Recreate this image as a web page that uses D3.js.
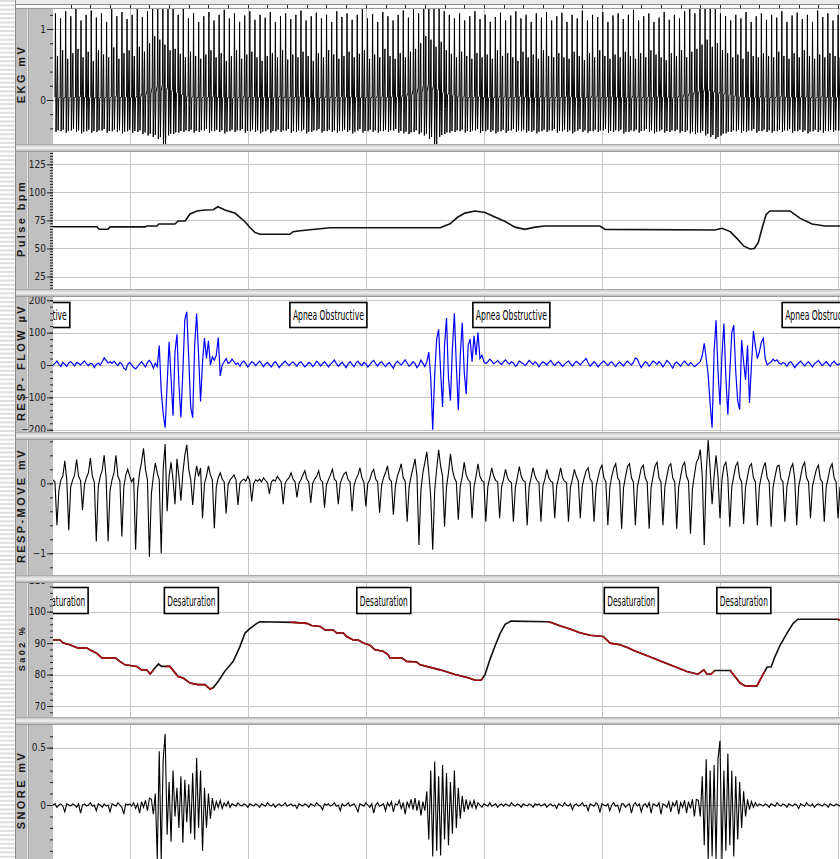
<!DOCTYPE html>
<html>
<head>
<meta charset="utf-8">
<script src="https://cdn.jsdelivr.net/npm/d3@7"></script>
<style>
  body { margin: 0; background: #fff; }
  svg { display: block; }
</style>
</head>
<body>
<script>
// time window in seconds
const tStart = 10.5, tEnd = 210.5;
const gridTimes = [30, 60, 90, 120, 150, 180, 210];
const sampleStep = 0.5; // flow, move and snore: one sample every 0.5 s from tStart

// EKG, one beat every 1.3 s from 11 s: tall peak, second peak, trough, baseline jitter
const ekgStart = 11.0, ekgStep = 1.3;
const ekgR = [
  1.22,1.15,1.25,1.18,1.3,1.12,1.2,1.26,1.16,1.22,1.1,1.28,1.18,1.24,
  1.14,1.2,1.3,1.17,1.25,1.32,1.35,1.3,1.28,1.35,1.2,1.3,1.15,1.22,
  1.1,1.18,1.24,1.12,1.2,1.27,1.15,1.22,1.1,1.19,1.25,1.13,1.2,1.16,
  1.24,1.1,1.18,1.22,1.14,1.2,1.26,1.12,1.18,1.23,1.15,1.2,1.1,1.25,
  1.17,1.22,1.13,1.2,1.28,1.15,1.21,1.1,1.24,1.18,1.12,1.2,1.26,1.16,
  1.3,1.22,1.32,1.35,1.3,1.33,1.25,1.2,1.15,1.22,1.12,1.18,1.25,1.14,
  1.2,1.1,1.17,1.23,1.12,1.19,1.25,1.15,1.2,1.1,1.22,1.16,1.24,1.12,
  1.18,1.23,1.1,1.2,1.15,1.26,1.12,1.2,1.17,1.24,1.1,1.19,1.22,1.14,
  1.2,1.27,1.12,1.18,1.22,1.1,1.16,1.24,1.13,1.2,1.15,1.25,1.28,1.22,
  1.3,1.33,1.28,1.3,1.22,1.18,1.12,1.2,1.15,1.24,1.1,1.18,1.22,1.13,
  1.2,1.16,1.25,1.1,1.19,1.23,1.14,1.2,1.1,1.26,1.17,1.22,1.12,1.2];
const ekgR2 = [
  .62,.7,.58,.66,.72,.6,.68,.55,.7,.64,.6,.74,.58,.66,
  .7,.62,.75,.68,.8,.9,.85,.78,.7,.72,.65,.6,.68,.62,
  .58,.64,.7,.6,.66,.55,.62,.7,.58,.64,.68,.6,.55,.62,
  .66,.6,.7,.57,.64,.6,.68,.62,.55,.66,.6,.7,.64,.58,
  .62,.68,.6,.65,.7,.58,.64,.6,.72,.62,.58,.66,.6,.68,
  .72,.8,.9,.85,.75,.82,.7,.65,.6,.68,.62,.58,.66,.6,
  .64,.58,.7,.62,.66,.6,.55,.68,.6,.64,.58,.7,.62,.6,
  .66,.6,.58,.68,.62,.56,.66,.6,.7,.62,.58,.64,.6,.68,
  .62,.58,.66,.6,.7,.64,.6,.56,.66,.62,.7,.6,.68,.72,
  .78,.85,.75,.8,.7,.66,.6,.64,.58,.68,.62,.6,.66,.62,
  .6,.68,.62,.58,.66,.6,.7,.62,.58,.64,.6,.66,.62,.6];
const ekgS = [
  -.45,-.44,-.46,-.43,-.45,-.47,-.44,-.46,-.45,-.43,-.46,-.44,-.45,-.47,
  -.44,-.46,-.45,-.48,-.5,-.52,-.55,-.68,-.5,-.48,-.46,-.45,-.44,-.46,
  -.45,-.43,-.46,-.44,-.45,-.47,-.44,-.45,-.43,-.46,-.44,-.45,-.47,-.44,
  -.46,-.44,-.45,-.43,-.46,-.45,-.44,-.47,-.45,-.43,-.46,-.44,-.45,-.46,
  -.44,-.45,-.47,-.43,-.46,-.44,-.45,-.46,-.44,-.45,-.43,-.46,-.47,-.48,
  -.45,-.48,-.5,-.55,-.68,-.52,-.48,-.46,-.45,-.44,-.46,-.45,-.43,-.46,
  -.44,-.45,-.47,-.44,-.46,-.43,-.45,-.44,-.46,-.45,-.47,-.44,-.45,-.43,
  -.46,-.44,-.45,-.47,-.43,-.45,-.46,-.44,-.45,-.43,-.46,-.45,-.44,-.47,
  -.45,-.44,-.46,-.43,-.45,-.47,-.44,-.46,-.45,-.44,-.46,-.45,-.47,-.48,
  -.46,-.5,-.52,-.55,-.5,-.47,-.45,-.44,-.46,-.45,-.43,-.46,-.44,-.45,
  -.46,-.44,-.45,-.43,-.46,-.44,-.45,-.47,-.44,-.45,-.46,-.44,-.45,-.43];
const ekgN = [
  .04,.05,.03,.05,.04,.06,.04,.05,.03,.05,.04,.05,.06,.04,
  .05,.04,.06,.1,.14,.18,.2,.22,.18,.15,.12,.08,.06,.05,
  .04,.05,.04,.06,.04,.05,.03,.05,.04,.06,.04,.05,.04,.05,
  .04,.05,.06,.04,.05,.04,.06,.05,.04,.05,.04,.06,.04,.05,
  .05,.04,.06,.05,.04,.05,.04,.06,.05,.04,.06,.05,.08,.1,
  .14,.18,.2,.22,.2,.16,.12,.1,.08,.06,.05,.04,.05,.06,
  .04,.05,.04,.06,.05,.04,.05,.06,.04,.05,.04,.06,.05,.04,
  .05,.04,.06,.05,.04,.05,.04,.06,.05,.04,.05,.06,.04,.05,
  .04,.06,.05,.04,.05,.04,.06,.05,.04,.05,.06,.08,.1,.12,
  .15,.18,.16,.14,.12,.1,.08,.06,.05,.04,.05,.04,.06,.05,
  .04,.05,.06,.04,.05,.04,.06,.05,.04,.05,.06,.04,.05,.04];

// Pulse (bpm)
const pulseT = [10.5,21.7,22.2,24.5,25.0,33.9,34.4,36.9,37.4,41.5,42.3,44.1,45.3,47.1,49.1,51.2,52.4,54.2,56.8,59.3,60.6,61.8,63.1,70.7,71.5,73.3,78.4,80.9,108.9,111.4,113.4,115.2,117.7,120.3,122.8,125.4,127.9,130.4,133.0,135.5,149.5,150.8,178.7,180.5,182.6,184.3,186.1,187.6,188.7,189.7,190.7,191.7,192.7,197.8,200.3,203.4,206.7,210.5];
const pulseV = [69.4,69.4,67.1,67.1,69.2,69.2,70,70,71.8,71.8,74.5,74.5,80.7,83.4,84.3,84.5,87.2,84.3,81.3,73.8,68.5,64.3,62.6,62.6,64.9,65.8,67.5,68.5,68.5,72,78,81.5,83.4,82,78,74,69,67,69,70,70,67,66.5,68,65,59,52,49.5,50,55,68,80,83.4,83.4,77,71.8,70,70];

// RESP-FLOW (µV)
const flow = [
  0,5,12,3,-5,8,2,-4,6,10,
  4,-3,8,5,0,7,12,4,-2,5,
  3,-8,2,6,0,10,22,14,6,10,
  5,12,4,-2,8,3,-10,-15,2,8,
  0,-8,-12,-5,3,10,2,-6,8,14,
  6,-10,
  5,-5,60,-80,-150,-194,-60,72,-40,-157,40,95,-60,-162,-20,140,164,20,-130,-163,
  60,159,30,-113,10,83,20,75,0,25,15,30,85,-34,0,10,20,5,
  8,18,10,2,6,-4,8,12,4,-6,
  2,10,6,-2,5,12,4,-5,3,8,
  0,-6,4,10,2,-8,0,6,12,4,
  -2,5,9,3,-4,6,10,2,-6,0,
  8,4,-5,2,12,6,-3,4,10,3,
  -6,2,8,15,5,-4,3,9,0,-8,
  4,10,2,-5,6,12,3,-2,8,4,
  -6,0,9,14,4,-3,6,10,2,-5,
  3,8,-2,-10,4,12,5,0,8,16,
  6,-4,2,10,4,-8,0,15,5,-5,
  10,40,-40,-200,-30,80,110,-20,-130,60,145,-40,-110,50,160,0,-140,30,130,-20,
  -90,60,80,10,90,30,100,20,30,10,5,
  10,18,12,4,8,14,6,2,10,
  16,8,3,10,6,-4,2,12,8,4,
  -2,6,14,8,2,10,5,-6,4,10,
  6,0,8,14,4,-2,6,10,3,-4,
  2,8,12,4,-3,5,11,6,0,7,
  14,20,6,-4,3,10,4,-6,2,8,
  12,5,-2,6,10,2,-5,4,9,3,
  -3,6,12,5,0,8,22,18,4,-8,
  2,10,6,-4,4,12,8,2,10,4,
  -6,3,14,8,0,-10,4,9,3,-4,
  6,12,4,-2,8,2,-5,0,
  5,10,30,67,20,-30,-120,-194,40,138,-20,-123,30,128,-40,-154,-20,100,123,-20,
  -110,-138,77,10,-46,60,-117,0,105,60,20,40,70,82,20,0,5,
  10,18,12,16,6,
  2,8,4,-4,6,10,2,-8,0,6,
  12,4,-3,5,10,2,-6,4,8,14,
  6,-2,4,10,3,-4,6,12,4,0,5];

// RESP-MOVE (mV)
const move = [
  .05,.02,-.60,-.10,.05,.10,.32,.05,-.67,-.05,
  .05,.12,.34,.10,.04,-.38,-.02,.08,.15,.36,
  .10,.02,-.83,-.05,.10,.18,.40,.08,-.83,-.10,
  .05,.15,.40,.10,.03,-.76,-.05,.12,.20,.10,
  .02,.08,-.95,-.10,.15,.30,.50,.20,.05,-1.05,
  -.15,.10,.29,.15,.05,-1.00,.20,.56,-.40,.10,
  .30,.05,-.30,.35,.10,-.25,.15,.40,.55,.20,
  .05,-.31,.05,.25,.10,.22,-.50,.00,.10,.25,
  .12,.05,-.64,-.05,.08,.15,.06,.02,-.43,-.02,
  .05,.08,.12,.05,-.31,.00,.04,.06,.03,.10,
  .04,-.26,.00,.05,.03,.06,.02,.08,.04,.01,
  -.15,.02,.05,.03,.10,.06,.02,-.30,.00,.05,
  .08,.15,.06,.02,-.20,.00,.05,.12,.18,.06,
  .02,-.28,.00,.06,.10,.18,.05,.02,-.35,-.02,
  .05,.12,.20,.06,.03,-.30,.00,.08,.14,.16,
  .05,.02,-.40,-.03,.06,.12,.22,.08,.02,-.33,
  .00,.05,.15,.20,.06,.02,-.42,-.03,.08,.15,
  .25,.06,.03,-.45,-.05,.10,.18,.28,.08,.03,
  -.55,-.05,.10,.22,.35,.10,-.88,-.10,.15,.30,
  .45,.15,-.20,-.95,-.10,.20,.48,.25,.10,-.62,
  -.05,.15,.42,.20,.08,.02,-.52,-.05,.10,.30,
  .12,.05,.02,-.50,-.05,.10,.28,.10,.04,.02,
  -.55,-.05,.08,.22,.10,.04,.02,-.50,-.05,.06,
  .20,.08,.03,.01,-.55,-.06,.08,.24,.10,.04,
  .02,-.60,-.05,.08,.22,.10,.04,.01,-.55,-.04,
  .06,.20,.08,.03,.01,-.50,-.04,.08,.22,.08,
  .03,.01,-.55,-.05,.06,.20,.10,.03,-.50,-.04,
  .08,.18,.22,.06,.02,-.55,-.05,.08,.20,.26,
  .08,.02,-.60,-.06,.10,.22,.28,.08,.03,-.65,
  -.06,.10,.24,.28,.08,.02,-.60,-.05,.08,.22,
  .26,.08,.02,-.65,-.06,.10,.25,.30,.08,.02,
  -.60,-.05,.10,.24,.28,.08,.02,-.65,-.06,.10,
  .25,.30,.10,.03,-.72,-.08,.12,.30,.35,.48,
  .10,-.88,.15,.62,.20,-.30,.10,.40,.10,-.50,
  .05,.25,.30,.08,-.62,-.05,.10,.25,.30,.08,
  .02,-.58,-.05,.10,.24,.28,.08,.02,-.60,-.05,
  .10,.22,.30,.08,.02,-.62,-.05,.10,.24,.26,
  .06,.02,-.55,-.05,.08,.22,.28,.06,-.60,-.05,
  .10,.24,.30,.08,.02,-.50,-.04,.08,.20,.26,
  .06,.02,-.55,-.05,.08,.22,.28,.08,.02,-.50,
  -.05];

// SaO2 (%)
const sao2T = [10.5,12.3,13.1,14.8,16.9,19.1,20.3,21.6,22.9,26.3,27.5,28.8,31.8,33.0,34.3,35.2,36.4,37.3,38.1,40.2,42.3,43.6,45.3,47.4,49.1,50.4,51.2,52.5,54.2,56.3,58.0,59.3,60.6,62.3,63.1,71.6,75.0,76.2,78.4,79.6,81.7,82.6,84.3,85.1,86.8,88.1,89.4,91.1,92.3,94.4,95.7,96.1,99.1,100.4,102.9,103.8,108.9,112.7,116.0,117.8,119.3,120.3,121.6,122.8,124.1,125.4,126.9,136.3,137.3,139.3,141.9,144.4,147.0,150.3,152.1,154.6,156.6,158.4,160.9,165.5,171.6,174.4,175.9,176.7,177.7,178.7,182.6,185.1,186.4,189.4,190.9,192.0,193.0,194.0,195.3,197.0,198.6,199.8,209.7,210.5];
const sao2V = [91.0,91.0,90.0,89.5,88.4,88.4,87.6,86.8,85.3,85.3,84.2,83.1,82.6,81.5,81.5,80.2,82.1,83.4,82.6,82.6,79.4,78.9,77.3,76.8,76.8,75.4,75.8,77.9,81.1,84.2,88.9,93.2,94.7,96.3,96.8,96.6,96.3,95.6,95.3,94.2,94.2,93.2,93.2,92.1,91.0,91.0,90.0,89.3,87.9,87.4,86.3,85.3,85.3,84.2,84.0,83.1,81.5,80.0,79.0,78.2,78.2,80.0,85.0,89.0,93.0,96.0,97.0,96.8,96.5,95.5,94.5,93.3,92.5,92.1,90.0,89.5,88.5,87.5,86.3,84.0,81.0,80.1,81.5,80.1,80.1,81.3,81.3,77.3,76.4,76.4,80.0,82.4,82.4,85.8,89.4,93.1,96.3,97.6,97.6,97.4];
// stretches of the SaO2 trace scored as desaturation (drawn red)
const desatSpans = [[10.5,36.1],[39.2,51.2],[70.7,119.8],[136.3,178.6],[182.6,191.4],[209.7,210.5]];

// SNORE (mV)
const snore = [
  0,.01,-.02,0,.01,-.01,-.06,.01,0,-.01,
  .01,0,-.02,.01,-.07,0,.01,-.01,0,.02,
  -.01,0,-.05,.01,0,-.02,.01,-.01,0,-.06,
  .01,0,-.01,.02,0,-.02,-.08,.01,0,.01,
  -.01,.02,-.03,.01,-.07,.03,-.02,.04,-.05,.06,
  .05,-.08,
  .10,-.47,.47,-.48,.40,.62,-.26,.20,-.32,.30,-.10,.15,-.20,.25,-.33,.22,-.15,.18,-.25,.28,
  -.30,.41,-.20,.30,-.40,.15,-.20,.10,-.12,.06,-.05,
  .03,-.02,.04,-.03,.02,-.01,.03,
  -.02,.01,0,-.01,.02,0,-.01,.01,0,-.02,
  .01,0,-.01,.01,0,-.02,.01,0,-.01,.02,
  0,-.01,.01,-.02,0,.01,-.01,0,.02,-.01,
  0,.01,-.01,0,-.03,.01,0,-.01,.01,0,
  -.02,.01,0,-.01,.02,0,-.01,-.04,.01,0,
  .01,-.01,0,.02,-.01,0,-.05,.01,-.01,0,
  .02,-.01,0,.01,-.02,-.06,.01,0,-.01,.02,
  0,-.02,.01,-.07,0,.02,-.01,0,.01,-.05,
  .02,-.01,.03,-.06,.01,0,.04,-.03,.02,-.08,
  .03,-.02,.05,-.04,.06,-.05,.04,-.09,
  .03,-.05,.12,-.30,.30,-.45,.38,-.40,.25,-.44,.35,-.30,.28,-.35,.20,-.25,.30,-.20,.15,-.12,
  .08,-.06,
  .05,-.04,.03,-.02,.04,-.03,.02,0,-.02,.01,
  0,-.01,.02,-.01,0,.01,-.02,0,.01,-.01,
  .01,0,-.01,.02,0,-.01,.01,0,-.02,.01,
  0,-.01,.01,0,-.02,.01,0,.01,-.01,0,
  .01,-.02,0,.01,-.01,0,-.03,.01,0,-.01,
  .02,0,-.01,.01,-.04,0,.01,-.01,0,.02,
  -.01,0,-.05,.01,0,-.01,.02,0,-.06,.01,
  0,-.01,.01,-.05,0,.02,-.01,0,-.06,.01,
  .01,-.02,0,.01,-.07,0,.02,-.01,.01,-.06,
  0,.01,-.02,.02,-.07,.01,0,-.01,.02,-.08,
  .01,0,-.02,.03,-.06,.02,-.01,.04,-.08,.02,
  -.02,.04,-.07,.03,-.03,.05,-.1,.05,
  .04,-.10,.25,-.35,.40,-.47,.30,-.45,.35,-.47,.40,.56,-.47,.30,-.40,.45,-.35,.30,-.45,.25,
  -.30,.20,-.20,.12,-.10,.05,
  -.04,.03,-.02,.02,-.01,.01,
  0,-.01,.01,0,-.02,.01,0,-.01,.02,0,
  -.01,.01,0,-.02,.01,0,-.01,.01,0,-.03,
  .01,0,-.01,.02,0,-.01,.01,-.02,0,.01,
  0,-.01,.01,0,-.02,.01,0,-.01,.01,0,-.01];

// event annotations (start times, s)
const apneaStarts = [-4.8, 70.7, 117.2, 195.8];
const desatStarts = [5.7, 38.8, 87.7, 150.6, 179.2];

const W = 840, H = 859;
const plotLeft = 53;
const tickFont = "'Liberation Sans Narrow', 'DejaVu Sans Condensed', sans-serif";

const svg = d3.select("body").append("svg")
    .attr("width", W)
    .attr("height", H);

const defs = svg.append("defs");
const grad = defs.append("linearGradient")
    .attr("id", "barGrad").attr("x1", 0).attr("y1", 0).attr("x2", 0).attr("y2", 1);
[["0%", "#9a9a9a"], ["20%", "#d2d2d2"], ["50%", "#f0f0f0"], ["80%", "#c4c4c4"], ["100%", "#8a8a8a"]]
    .forEach(s => grad.append("stop").attr("offset", s[0]).attr("stop-color", s[1]));

const x = d3.scaleLinear().domain([tStart, tEnd]).range([plotLeft, W]);
const sampled = arr => arr.map((v, i) => [tStart + i * sampleStep, v]);
const zip = (ts, vs) => ts.map((t, i) => [t, vs[i]]);

// panels: pixel rows and value ranges
const panels = [
  {id: "ekg", title: "EKG mV", top: 8, bottom: 144, domain: [-0.62, 1.296],
   major: [0, 1], minor: d3.range(-4, 13, 2).map(d => d / 10), fmt: d3.format("d")},
  {id: "pulse", title: "Pulse bpm", top: 152, bottom: 289, domain: [13.86, 135.96],
   major: [25, 50, 75, 100, 125], minor: d3.range(15, 136, 2.5), fmt: d3.format("d")},
  {id: "flow", title: "RESP- FLOW \u00B5V", top: 297, bottom: 432, domain: [-207, 210],
   major: [-200, -100, 0, 100, 200], minor: d3.range(-200, 201, 20), fmt: d3.format("d")},
  {id: "move", title: "RESP-MOVE mV", top: 440, bottom: 575, domain: [-1.31, 0.619],
   major: [-1, 0], minor: d3.range(-12, 7, 2).map(d => d / 10), fmt: d3.format("d")},
  {id: "sao2", title: "Sa02 %", top: 583, bottom: 717, domain: [66.5, 109.13], small: true,
   major: [70, 80, 90, 100, 110], minor: d3.range(68, 110, 2), fmt: d3.format("d")},
  {id: "snore", title: "SNORE mV", top: 725, bottom: 859, domain: [-0.471, 0.698],
   major: [0, 0.5], minor: d3.range(-4, 7, 1).map(d => d / 10), fmt: d => d === 0 ? "0" : d3.format(".1f")(d)}
];

panels.forEach(p => {
  p.y = d3.scaleLinear().domain(p.domain).range([p.bottom, p.top]);
  defs.append("clipPath").attr("id", "clip-" + p.id)
    .append("rect")
    .attr("x", plotLeft).attr("y", p.top)
    .attr("width", W - plotLeft).attr("height", p.bottom - p.top);
  p.g = svg.append("g");
  // grid
  p.g.selectAll(".vgrid").data(gridTimes).enter().append("line")
    .attr("x1", d => Math.round(x(d)) + 0.5).attr("x2", d => Math.round(x(d)) + 0.5)
    .attr("y1", p.top).attr("y2", p.bottom)
    .attr("stroke", "#c6c6c6").attr("stroke-width", 1);
  p.g.selectAll(".hgrid").data(p.major.filter(v => v > p.domain[0] && v < p.domain[1])).enter().append("line")
    .attr("x1", plotLeft).attr("x2", W)
    .attr("y1", d => Math.round(p.y(d)) + 0.5).attr("y2", d => Math.round(p.y(d)) + 0.5)
    .attr("stroke", "#c6c6c6").attr("stroke-width", 1);
  p.plot = p.g.append("g").attr("clip-path", "url(#clip-" + p.id + ")");
  p.line = d3.line().x(d => x(d[0])).y(d => p.y(d[1]));
});

const P = {};
panels.forEach(p => P[p.id] = p);

// EKG trace, each beat: tall spike and a second, shorter one
const ekgPts = [];
ekgR.forEach((r, k) => {
  const t = ekgStart + k * ekgStep, n = ekgN[k];
  ekgPts.push([t, n], [t + 0.12, r], [t + 0.27, ekgS[k]], [t + 0.42, -n],
              [t + 0.65, ekgR2[k]], [t + 0.8, ekgS[k] * 0.95], [t + 0.97, n * 0.6]);
});
P.ekg.plot.append("path").datum(ekgPts)
    .attr("d", P.ekg.line).attr("fill", "none")
    .attr("stroke", "#000").attr("stroke-width", 1);

P.pulse.plot.append("path").datum(zip(pulseT, pulseV))
    .attr("d", P.pulse.line).attr("fill", "none")
    .attr("stroke", "#111").attr("stroke-width", 1.6);

P.flow.plot.append("path").datum(sampled(flow))
    .attr("d", P.flow.line).attr("fill", "none")
    .attr("stroke", "#0000ff").attr("stroke-width", 1.2);

P.move.plot.append("path").datum(sampled(move))
    .attr("d", P.move.line).attr("fill", "none")
    .attr("stroke", "#000").attr("stroke-width", 1.1);

// SaO2: black trace, red over the desaturation stretches
const redClip = defs.append("clipPath").attr("id", "clip-desat");
desatSpans.forEach(s => redClip.append("rect")
    .attr("x", x(s[0])).attr("width", x(s[1]) - x(s[0]))
    .attr("y", P.sao2.top).attr("height", P.sao2.bottom - P.sao2.top));
const saoData = zip(sao2T, sao2V);
P.sao2.plot.append("path").datum(saoData)
    .attr("d", P.sao2.line).attr("fill", "none")
    .attr("stroke", "#111").attr("stroke-width", 1.6);
P.sao2.plot.append("g").attr("clip-path", "url(#clip-desat)")
  .append("path").datum(saoData)
    .attr("d", P.sao2.line).attr("fill", "none")
    .attr("stroke", "#a81010").attr("stroke-width", 1.6);

P.snore.plot.append("path").datum(sampled(snore))
    .attr("d", P.snore.line).attr("fill", "none")
    .attr("stroke", "#000").attr("stroke-width", 1.1);

// annotation boxes
function addNotes(p, starts, label, boxW, textW, dy, boxH) {
  const g = p.plot.selectAll(".note").data(starts).enter().append("g")
      .attr("transform", d => `translate(${x(d)},${p.top + dy})`);
  g.append("rect")
      .attr("width", boxW).attr("height", boxH)
      .attr("fill", "#fff").attr("stroke", "#000").attr("stroke-width", 1.6);
  g.append("text")
      .attr("x", (boxW - textW) / 2).attr("y", boxH - 8)
      .attr("textLength", textW).attr("lengthAdjust", "spacingAndGlyphs")
      .style("font-family", tickFont).style("font-size", "14px").attr("fill", "#000")
      .text(label);
}
addNotes(P.flow, apneaStarts, "Apnea Obstructive", 77, 71, 5.5, 25);
addNotes(P.sao2, desatStarts, "Desaturation", 54, 48, 4.5, 26);

// left gray columns with titles and y axes
panels.forEach(p => {
  const g = svg.append("g");
  g.append("rect").attr("x", 15).attr("y", p.top).attr("width", plotLeft - 15)
      .attr("height", p.bottom - p.top).attr("fill", "#c0c0c0");
  g.append("line").attr("x1", 27.5).attr("x2", 27.5).attr("y1", p.top).attr("y2", p.bottom)
      .attr("stroke", "#e2e2e2");
  g.append("line").attr("x1", 28.5).attr("x2", 28.5).attr("y1", p.top).attr("y2", p.bottom)
      .attr("stroke", "#a4a4a4");
  g.append("line").attr("x1", 15.5).attr("x2", 15.5).attr("y1", p.top).attr("y2", p.bottom)
      .attr("stroke", "#8c8c8c");

  g.append("text")
      .attr("transform", `translate(21.5,${(p.top + p.bottom) / 2 - 2}) rotate(-90)`)
      .attr("text-anchor", "middle").attr("dy", "0.36em")
      .style("font-family", "'Liberation Sans', Arial, sans-serif")
      .style("font-weight", "bold")
      .style("font-size", p.small ? "9px" : "11px")
      .style("letter-spacing", p.small ? "2.5px" : "2.4px")
      .attr("fill", "#1a1a1a")
      .text(p.title);

  const minorAxis = g.append("g").attr("transform", `translate(${plotLeft},0)`)
      .call(d3.axisLeft(p.y).tickValues(p.minor).tickSize(3).tickFormat(""));
  const majorAxis = g.append("g").attr("transform", `translate(${plotLeft},0)`)
      .call(d3.axisLeft(p.y).tickValues(p.major).tickSize(6).tickPadding(1).tickFormat(p.fmt));
  [minorAxis, majorAxis].forEach(a => {
    a.select(".domain").remove();
    a.selectAll(".tick line").attr("stroke", "#222");
  });
  majorAxis.selectAll(".tick text")
      .style("font-family", tickFont).style("font-size", "10px")
      .attr("fill", "#222");
});

// separator bars between panels
const barTops = [144, 289, 432, 575, 717];
svg.selectAll(".bar").data(barTops).enter().append("rect")
    .attr("x", 15).attr("y", d => d).attr("width", W - 15).attr("height", 8)
    .attr("fill", "url(#barGrad)");

// top time ruler, a tick every 5 s
const ruler = svg.append("g");
ruler.append("rect").attr("x", 15).attr("y", 0).attr("width", W - 15).attr("height", 4).attr("fill", "#ececec");
ruler.append("rect").attr("x", 15).attr("y", 4).attr("width", W - 15).attr("height", 4).attr("fill", "#fafafa");
ruler.append("line").attr("x1", 15).attr("x2", W).attr("y1", 4.5).attr("y2", 4.5).attr("stroke", "#8a8a8a");
ruler.append("line").attr("x1", 15).attr("x2", W).attr("y1", 8.5).attr("y2", 8.5).attr("stroke", "#9a9a9a");
ruler.selectAll(".rt").data(d3.range(15, 211, 5)).enter().append("line")
    .attr("x1", d => Math.round(x(d)) + 0.5).attr("x2", d => Math.round(x(d)) + 0.5)
    .attr("y1", 5).attr("y2", 8.5).attr("stroke", "#333");

// striped margin on the far left
svg.append("rect").attr("x", 0).attr("y", 0).attr("width", 15).attr("height", H).attr("fill", "#fff");
svg.selectAll(".stripe").data(d3.range(0, H, 4.3)).enter().append("rect")
    .attr("x", 0).attr("y", d => d).attr("width", 15).attr("height", 2)
    .attr("fill", "#dedede");
svg.append("line").attr("x1", 15.5).attr("x2", 15.5).attr("y1", 0).attr("y2", H).attr("stroke", "#8c8c8c");
</script>
</body>
</html>
